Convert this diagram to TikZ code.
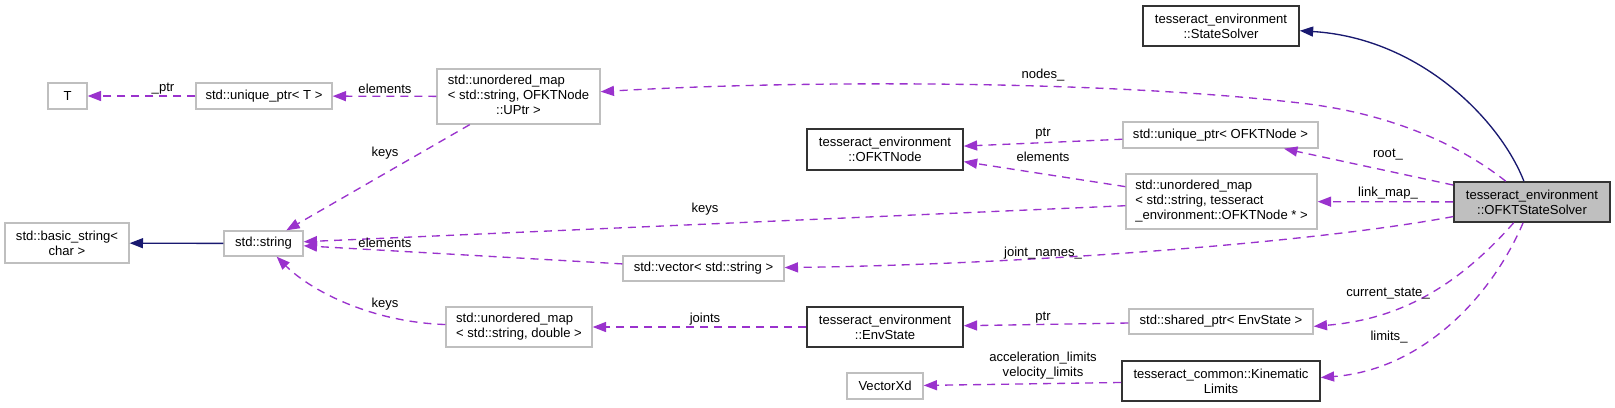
\documentclass[tikz,border=0pt]{standalone}
\usepackage{fontspec}
\setmainfont{Liberation Sans}
\usetikzlibrary{arrows.meta}

\definecolor{edgepurple}{HTML}{9A32CD}
\definecolor{edgenavy}{HTML}{191970}
\definecolor{boxgray}{HTML}{BFBFBF}

\begin{document}
\begin{tikzpicture}[x=0.75pt, y=-0.75pt,
    font=\fontsize{9.8}{11.25}\selectfont,
    cls/.style={draw=boxgray, line width=1pt, inner sep=0pt, align=center},
    doc/.style={draw=black!80, line width=1.2pt, inner sep=0pt, align=center},
    sz/.style 2 args={minimum width=#1*0.75pt, minimum height=#2*0.75pt},
    dep/.style={edgepurple, line width=1pt, dash pattern=on 6pt off 4.5pt,
        -{Triangle[length=10pt, width=7.5pt]}},
    inh/.style={edgenavy, line width=1pt, -{Triangle[length=10pt, width=7.5pt]}},
    lbl/.style={inner sep=0pt, align=center}]
    \useasboundingbox[fill=white] (0,0) rectangle (1615,407);

    % Classes, left part
    \node[cls, sz={39}{26}] (T) at (67.5,96) {T};
    \node[cls, sz={136}{26}] (uptrT) at (264,96) {std::unique\_ptr< T >};
    \node[cls, sz={163}{55}] (nodesmap) at (518.5,96.5) {\begin{tabular}{@{}l@{}}std::unordered\_map\\< std::string, OFKTNode\\\multicolumn{1}{@{}c@{}}{::UPtr >}\end{tabular}};
    \node[cls, sz={124}{40}] (basicstr) at (67,243) {std::basic\_string<\\char >};
    \node[cls, sz={79}{25}] (stdstr) at (263.5,243.5) {std::string};
    \node[cls, sz={161}{25}] (vecstr) at (703.5,268.5) {std::vector< std::string >};
    \node[cls, sz={146}{40}, align=left] (jointmap) at (519,327) {std::unordered\_map\\< std::string, double >};

    % Classes, middle part
    \node[doc, sz={156}{41}] (ofktnode) at (885,149.5) {tesseract\_environment\\::OFKTNode};
    \node[doc, sz={156}{40}] (envstate) at (885,327) {tesseract\_environment\\::EnvState};
    \node[cls, sz={76}{26}] (vecxd) at (885,386) {VectorXd};

    % Classes, right part
    \node[doc, sz={156}{40}] (stsolver) at (1221,26) {tesseract\_environment\\::StateSolver};
    \node[cls, sz={195}{26}] (uptrnode) at (1220.5,135) {std::unique\_ptr< OFKTNode >};
    \node[cls, sz={191}{55}, align=left] (linkmap) at (1221.5,201.5) {std::unordered\_map\\< std::string, tesseract\\\_environment::OFKTNode * >};
    \node[cls, sz={184}{25}] (sharedptr) at (1221,321.5) {std::shared\_ptr< EnvState >};
    \node[doc, sz={198}{40}] (kinlimits) at (1221,381) {tesseract\_common::Kinematic\\Limits};
    \node[doc, fill=boxgray, sz={156}{40}] (ofkt) at (1532,202) {tesseract\_environment\\::OFKTStateSolver};

    % Inheritance
    \draw[inh] (stdstr) -- (basicstr);
    \draw[inh] (ofkt) .. controls (1500,120) and (1420,38) .. (stsolver);

    % Members of OFKTStateSolver
    \coordinate (nodesbend) at (1300,103);
    \draw[dep] (ofkt) .. controls (1460,145) and (1390,113) .. (nodesbend)
        .. controls (1100,80) and (800,80) .. (nodesmap);
    \draw[dep] (ofkt) -- (uptrnode);
    \draw[dep] (ofkt) -- (linkmap);
    \draw[dep] (ofkt) .. controls (1300,245) and (1000,265) .. (vecstr);
    \draw[dep] (ofkt) .. controls (1450,295) and (1390,320) .. (sharedptr.-3);
    \draw[dep] (ofkt) .. controls (1490,300) and (1420,370) .. (kinlimits.2);

    % Other members
    \draw[dep] (linkmap) -- (ofktnode);
    \draw[dep] (uptrnode) -- (ofktnode);
    \draw[dep] (linkmap) -- (stdstr);
    \draw[dep] (vecstr) -- (stdstr);
    \draw[dep] (nodesmap) -- (stdstr);
    \draw[dep] (nodesmap) -- (uptrT);
    \draw[dep] (uptrT) -- (T);
    \draw[dep] (jointmap) .. controls (370,322) and (310,290) .. (stdstr);
    \draw[dep] (envstate) -- (jointmap);
    \draw[dep] (sharedptr) -- (envstate);
    \draw[dep] (kinlimits) -- (vecxd);

    % Labels
    \node[lbl] (lptrT) at (163,89) {\_ptr};
    \node[lbl] (lelemT) at (385,89) {elements};
    \node[lbl] (lkeys1) at (385,153) {keys};
    \node[lbl] (lnodes) at (1043,75) {nodes\_};
    \node[lbl] (lptrnode) at (1043,134) {ptr};
    \node[lbl] (lelemnode) at (1043,157) {elements};
    \node[lbl] (lroot) at (1388,155) {root\_};
    \node[lbl] (llinkmap) at (1388,193) {link\_map\_};
    \node[lbl] (lkeys2) at (705,209) {keys};
    \node[lbl] (lelemstr) at (385,243) {elements};
    \node[lbl] (ljoint) at (1043,253) {joint\_names\_};
    \node[lbl] (lcurrent) at (1388,294) {current\_state\_};
    \node[lbl] (llimits) at (1389,337) {limits\_};
    \node[lbl] (lkeys3) at (385,304) {keys};
    \node[lbl] (ljoints) at (705,319) {joints};
    \node[lbl] (lptrenv) at (1043,318) {ptr};
    \node[lbl] (lacc) at (1043,365.5) {acceleration\_limits\\velocity\_limits};
\end{tikzpicture}
\end{document}
